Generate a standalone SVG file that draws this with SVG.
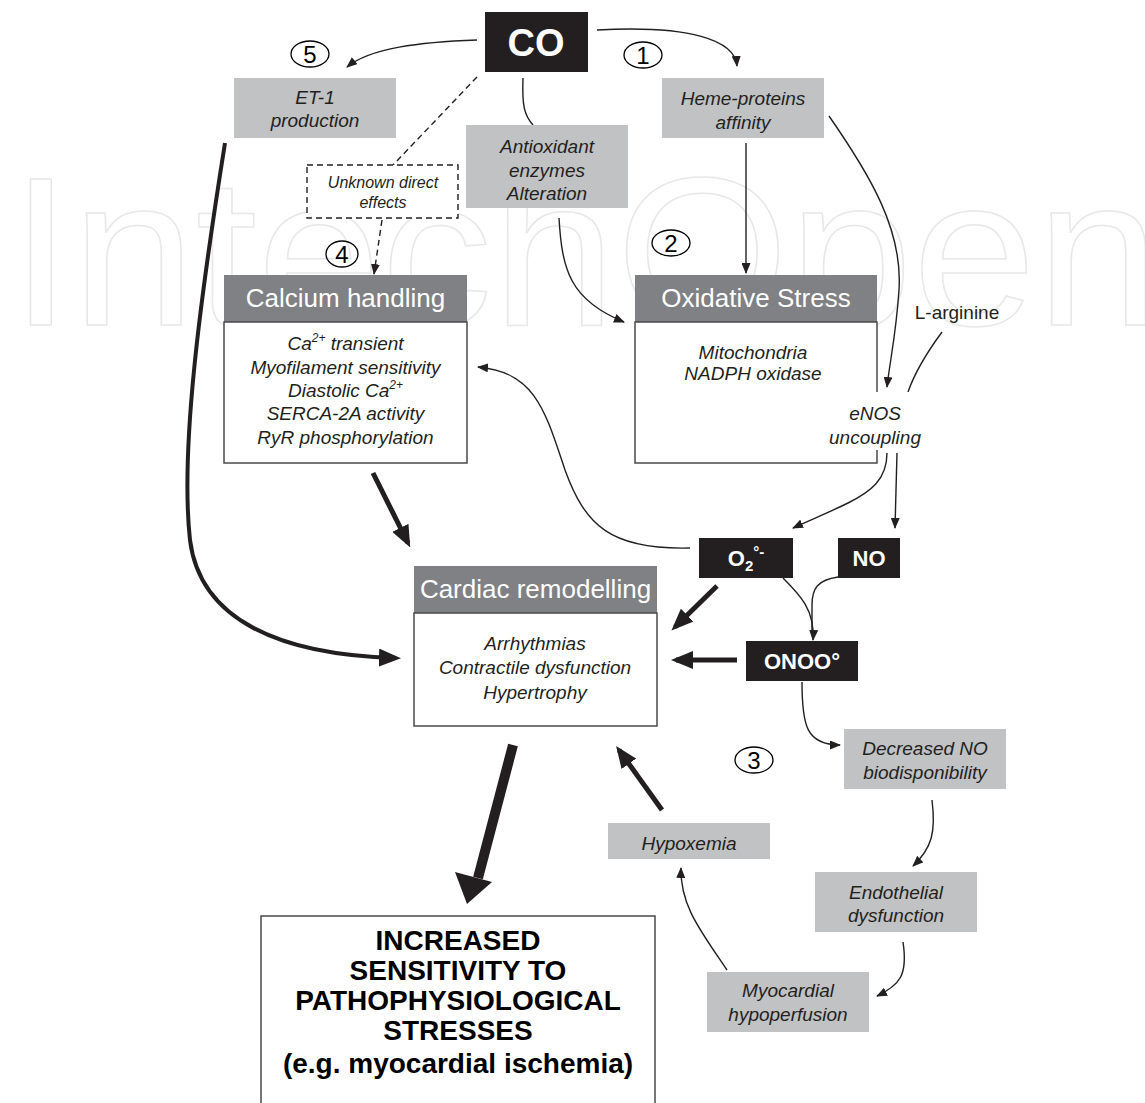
<svg xmlns="http://www.w3.org/2000/svg" width="1145" height="1103" viewBox="0 0 1145 1103">
<defs>
<style>
.t{font-family:"Liberation Sans",Arial,sans-serif;text-anchor:middle}
.it{font-family:"Liberation Sans",Arial,sans-serif;font-style:italic;font-size:19px;fill:#231f20;text-anchor:middle}
.hd{font-family:"Liberation Sans",Arial,sans-serif;font-size:26px;fill:#ffffff;text-anchor:middle}
.wb{font-family:"Liberation Sans",Arial,sans-serif;font-weight:bold;font-size:22px;fill:#ffffff;text-anchor:middle}
.num{font-family:"Liberation Sans",Arial,sans-serif;font-size:24px;fill:#000;text-anchor:middle}
.gray{fill:#c1c2c4}
.dark{fill:#808184}
.blk{fill:#231f20}
.body{fill:#ffffff;stroke:#4a4a4a;stroke-width:1.5}
.circ{fill:none;stroke:#000;stroke-width:1.3}
.thin{fill:none;stroke:#231f20;stroke-width:1.4}
.thick{fill:none;stroke:#231f20;stroke-width:5}
.dash{fill:none;stroke:#231f20;stroke-width:1.4;stroke-dasharray:6,4}
</style>
<marker id="ah" markerUnits="userSpaceOnUse" markerWidth="11" markerHeight="9" viewBox="0 0 11 9" refX="10" refY="4.5" orient="auto"><path d="M0,0 L11,4.5 L0,9 Z" fill="#231f20"/></marker>
<marker id="ahT" markerUnits="userSpaceOnUse" markerWidth="22" markerHeight="18" viewBox="0 0 22 18" refX="17" refY="9" orient="auto"><path d="M0,0 L22,9 L0,18 Z" fill="#231f20"/></marker>
</defs>
<rect width="1145" height="1103" fill="#ffffff"/>
<text x="10" y="325" font-family="Liberation Sans, Arial, sans-serif" font-size="212" fill="none" stroke="#e8e8e8" stroke-width="1.5" textLength="1150" lengthAdjust="spacingAndGlyphs">IntechOpen</text>

<g id="connectors">
<path class="thin" d="M477,40 C420,42 370,48 347,67" marker-end="url(#ah)"/>
<path class="thin" d="M597,30 C690,25 735,40 737,66" marker-end="url(#ah)"/>
<path class="thin" d="M523,78 C522,105 524,115 533,125"/>
<path class="dash" d="M477,77 L393,165"/>
<path class="dash" d="M382,220 L374,274" marker-end="url(#ah)"/>
<path class="thin" d="M746,143 L746,273" marker-end="url(#ah)"/>
<path class="thin" d="M559,218 C562,270 570,300 624,322" marker-end="url(#ah)"/>
<path class="thin" d="M829,116 C870,175 903,230 899,290 C896,335 890,360 887,387" marker-end="url(#ah)"/>
<path class="thin" d="M942,332 C925,355 915,372 908,392"/>
<path class="thin" d="M887,453 C887,480 870,492 848,503 C828,513 810,520 793,528" marker-end="url(#ah)"/>
<path class="thin" d="M897,453 L895,528" marker-end="url(#ah)"/>
<path class="thin" d="M690,548 C610,550 585,525 565,470 C545,410 535,372 478,367" marker-end="url(#ah)"/>
<path class="thick" d="M717,586 L675,627" marker-end="url(#ahT)"/>
<path class="thick" d="M737,660 L676,660" marker-end="url(#ahT)"/>
<path class="thin" d="M783,578 C800,595 815,610 813,640" marker-end="url(#ah)"/>
<path class="thin" d="M838,577 C818,580 812,588 812,605 L812,630"/>
<path class="thin" d="M802,682 C802,725 806,745 840,745" marker-end="url(#ah)"/>
<path class="thin" d="M932,800 C936,832 932,848 913,866" marker-end="url(#ah)"/>
<path class="thin" d="M903,942 C908,975 900,985 877,996" marker-end="url(#ah)"/>
<path class="thin" d="M727,970 C700,930 680,905 681,868" marker-end="url(#ah)"/>
<path class="thick" d="M662,810 L619,750" marker-end="url(#ahT)"/>
<path class="thick" d="M373,473 L408,543" marker-end="url(#ahT)"/>
<path class="thick" style="stroke-width:4" d="M225,143 C200,300 180,450 190,540 C200,620 280,655 396,658" marker-end="url(#ahT)"/>
<path class="thick" style="stroke-width:10" d="M513,745 L478,878"/>
<polygon points="455,872 492,882 467,904" fill="#231f20"/>
</g>

<g id="n-co"><rect class="blk" x="485" y="12" width="103" height="60"/><text class="t" x="536" y="56" font-size="38" font-weight="bold" fill="#fff">CO</text></g>
<g id="n-c5"><ellipse class="circ" cx="310" cy="54" rx="19" ry="13"/><text class="num" x="310" y="63">5</text></g>
<g id="n-c1"><ellipse class="circ" cx="643" cy="55" rx="19" ry="13"/><text class="num" x="643" y="64">1</text></g>
<g id="n-c2"><ellipse class="circ" cx="671" cy="243" rx="19" ry="13"/><text class="num" x="671" y="252">2</text></g>
<g id="n-c4"><ellipse class="circ" cx="342" cy="254" rx="16" ry="13"/><text class="num" x="342" y="263">4</text></g>
<g id="n-c3"><ellipse class="circ" cx="754" cy="760" rx="19" ry="13"/><text class="num" x="754" y="769">3</text></g>

<g id="n-et1"><rect class="gray" x="234" y="78" width="162" height="60"/><text class="it" x="315" y="104">ET-1</text><text class="it" x="315" y="127">production</text></g>
<g id="n-heme"><rect class="gray" x="662" y="78" width="162" height="60"/><text class="it" x="743" y="105">Heme-proteins</text><text class="it" x="743" y="129">affinity</text></g>
<g id="n-antiox"><rect class="gray" x="466" y="125" width="162" height="83"/><text class="it" x="547" y="153">Antioxidant</text><text class="it" x="547" y="177">enzymes</text><text class="it" x="547" y="200">Alteration</text></g>
<g id="n-unknown"><rect x="307" y="165" width="151" height="53" fill="#fff" stroke="#231f20" stroke-width="1.4" stroke-dasharray="6,4"/><text class="it" style="font-size:16px" x="383" y="188">Unknown direct</text><text class="it" style="font-size:16px" x="383" y="208">effects</text></g>

<g id="n-calcium">
<rect class="dark" x="224" y="275" width="243" height="47"/>
<text class="hd" x="345.5" y="307">Calcium handling</text>
<rect class="body" x="224" y="322" width="243" height="141"/>
<text class="it" x="345.5" y="350">Ca<tspan font-size="12" dy="-8">2+</tspan><tspan dy="8"> transient</tspan></text>
<text class="it" x="345.5" y="374">Myofilament sensitivity</text>
<text class="it" x="345.5" y="397">Diastolic Ca<tspan font-size="12" dy="-8">2+</tspan></text>
<text class="it" x="345.5" y="420">SERCA-2A activity</text>
<text class="it" x="345.5" y="444">RyR phosphorylation</text>
</g>

<g id="n-oxid">
<rect class="dark" x="635" y="275" width="242" height="47"/>
<text class="hd" x="756" y="307">Oxidative Stress</text>
<rect class="body" x="635" y="322" width="242" height="141"/>
<text class="it" x="753" y="359">Mitochondria</text>
<text class="it" x="753" y="380">NADPH oxidase</text>
</g>

<g id="n-larg"><text class="t" x="957" y="319" font-size="19" fill="#231f20">L-arginine</text></g>
<g id="n-enos"><rect x="850" y="392" width="60" height="58" fill="#fff"/><text class="it" x="875" y="420">eNOS</text><text class="it" x="875" y="444">uncoupling</text></g>

<g id="n-o2"><rect class="blk" x="699" y="538" width="94" height="40"/><text class="wb" x="746" y="566">O<tspan font-size="15" dy="5">2</tspan><tspan font-size="15" dy="-14">°-</tspan></text></g>
<g id="n-no"><rect class="blk" x="838" y="538" width="62" height="40"/><text class="wb" x="869" y="566">NO</text></g>
<g id="n-onoo"><rect class="blk" x="746" y="641" width="112" height="40"/><text class="wb" x="802" y="669">ONOO°</text></g>

<g id="n-cardiac">
<rect class="dark" x="414" y="566" width="243" height="47"/>
<text class="hd" x="535.5" y="598">Cardiac remodelling</text>
<rect class="body" x="414" y="613" width="243" height="113"/>
<text class="it" x="535" y="650">Arrhythmias</text>
<text class="it" x="535" y="674">Contractile dysfunction</text>
<text class="it" x="535" y="699">Hypertrophy</text>
</g>

<g id="n-decno"><rect class="gray" x="844" y="729" width="162" height="60"/><text class="it" x="925" y="755">Decreased NO</text><text class="it" x="925" y="779">biodisponibility</text></g>
<g id="n-endo"><rect class="gray" x="815" y="872" width="162" height="60"/><text class="it" x="896" y="899">Endothelial</text><text class="it" x="896" y="922">dysfunction</text></g>
<g id="n-myo"><rect class="gray" x="707" y="972" width="162" height="60"/><text class="it" x="788" y="997">Myocardial</text><text class="it" x="788" y="1021">hypoperfusion</text></g>
<g id="n-hypox"><rect class="gray" x="608" y="823" width="162" height="36"/><text class="it" x="689" y="850">Hypoxemia</text></g>

<g id="n-outcome">
<rect x="261" y="916" width="394" height="200" fill="#fff" stroke="#4a4a4a" stroke-width="1.5"/>
<g class="t" font-size="28" font-weight="bold" fill="#000">
<text x="458" y="950">INCREASED</text>
<text x="458" y="980">SENSITIVITY TO</text>
<text x="458" y="1010">PATHOPHYSIOLOGICAL</text>
<text x="458" y="1040">STRESSES</text>
<text x="458" y="1073">(e.g. myocardial ischemia)</text>
</g>
</g>
</svg>
